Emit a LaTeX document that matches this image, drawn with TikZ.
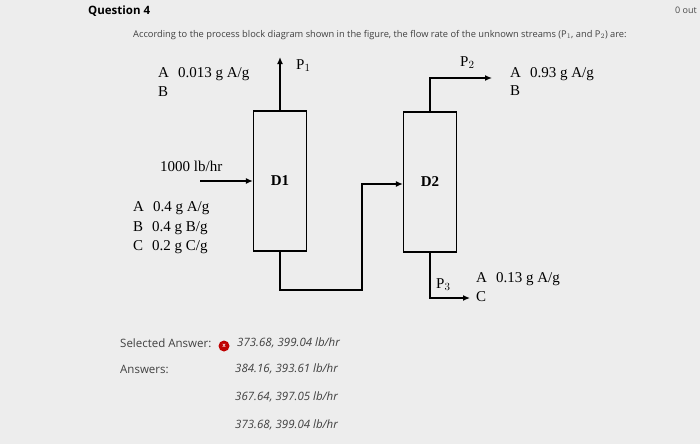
\documentclass[tikz,border=0pt]{standalone}
\usepackage{fontspec}
\setmainfont{Liberation Serif}
\newfontfamily\ui{Open Sans}
\usetikzlibrary{arrows.meta}
\begin{document}
\begin{tikzpicture}[x=1pt,y=-1pt,>={Latex[length=7pt,width=6pt]},
  col/.style={draw,line width=1.3pt,minimum width=53pt,minimum height=140pt,font=\bfseries\fontsize{15}{17}\selectfont,inner sep=0},
  lbl/.style={anchor=west,inner sep=0,font=\fontsize{15}{17}\selectfont},
  uit/.style={anchor=west,inner sep=0,font=\ui\fontsize{11.5}{13}\selectfont,text=black!75},
  ans/.style={anchor=west,inner sep=0,font=\ui\fontsize{11.5}{13}\selectfont\itshape,text=black!75},
  flow/.style={line width=1.3pt,->}]
\fill[black!7] (0,0) rectangle (700,444);
\useasboundingbox (0,0) rectangle (700,444);
\node[anchor=west,inner sep=0,font=\ui\bfseries\fontsize{11.5}{13}\selectfont] (q) at (88,11) {Question 4};
\node[anchor=west,inner sep=0,font=\ui\fontsize{9}{10}\selectfont,text=black!70] (pts) at (675,10) {0 out};
\node[uit,font=\ui\fontsize{9.3}{11}\selectfont] (intro) at (133,35) {According to the process block diagram shown in the figure, the flow rate of the unknown streams (P$_1$, and P$_2$) are:};
\node[col] (d1) at (280,181) {D1};
\node[col] (d2) at (430,182) {D2};
\coordinate (p1) at (280,57);
\draw[flow] (d1.north) -- (p1);
\node[lbl] (p1l) at (296,66) {P$_1$};
\node[lbl] (a1) at (158,74) {A\hspace{9pt}0.013 g A/g};
\node[lbl] (b1) at (158,92) {B};
\coordinate (f0) at (200,181);
\draw[flow] (f0) -- (d1.west|-f0);
\node[lbl] (feed) at (160,166) {1000 lb/hr};
\node[lbl] (fa) at (133,208) {A\hspace{9pt}0.4 g A/g};
\node[lbl] (fb) at (133,228) {B\hspace{9pt}0.4 g B/g};
\node[lbl] (fc) at (133,247) {C\hspace{9pt}0.2 g C/g};
\coordinate (m) at (362,184);
\draw[flow] (d1.south) |- (362,290) -- (m) -- (d2.west|-m);
\coordinate (p2) at (492,78);
\draw[flow] (d2.north) |- (p2);
\node[lbl] (p2l) at (460,63) {P$_2$};
\node[lbl] (a2) at (510,74) {A\hspace{9pt}0.93 g A/g};
\node[lbl] (b2) at (510,91) {B};
\coordinate (p3) at (470,298);
\draw[flow] (d2.south) |- (p3);
\node[lbl] (p3l) at (436,285) {P$_3$};
\node[lbl] (a3) at (476,279) {A\hspace{9pt}0.13 g A/g};
\node[lbl] (c3) at (476,297) {C};
\node[uit] (sel) at (120,343) {Selected Answer:};
\node[circle,fill=red!75!black,minimum size=11pt,inner sep=0,text=white,font=\sffamily\scriptsize\bfseries] (ic) at (224,346) {x};
\node[ans] (s1) at (237,343) {373.68, 399.04 lb/hr};
\node[uit] (an) at (120,369) {Answers:};
\node[ans] (a1x) at (235,369) {384.16, 393.61 lb/hr};
\node[ans] (a2x) at (235,397) {367.64, 397.05 lb/hr};
\node[ans] (a3x) at (235,425) {373.68, 399.04 lb/hr};
\end{tikzpicture}
\end{document}
